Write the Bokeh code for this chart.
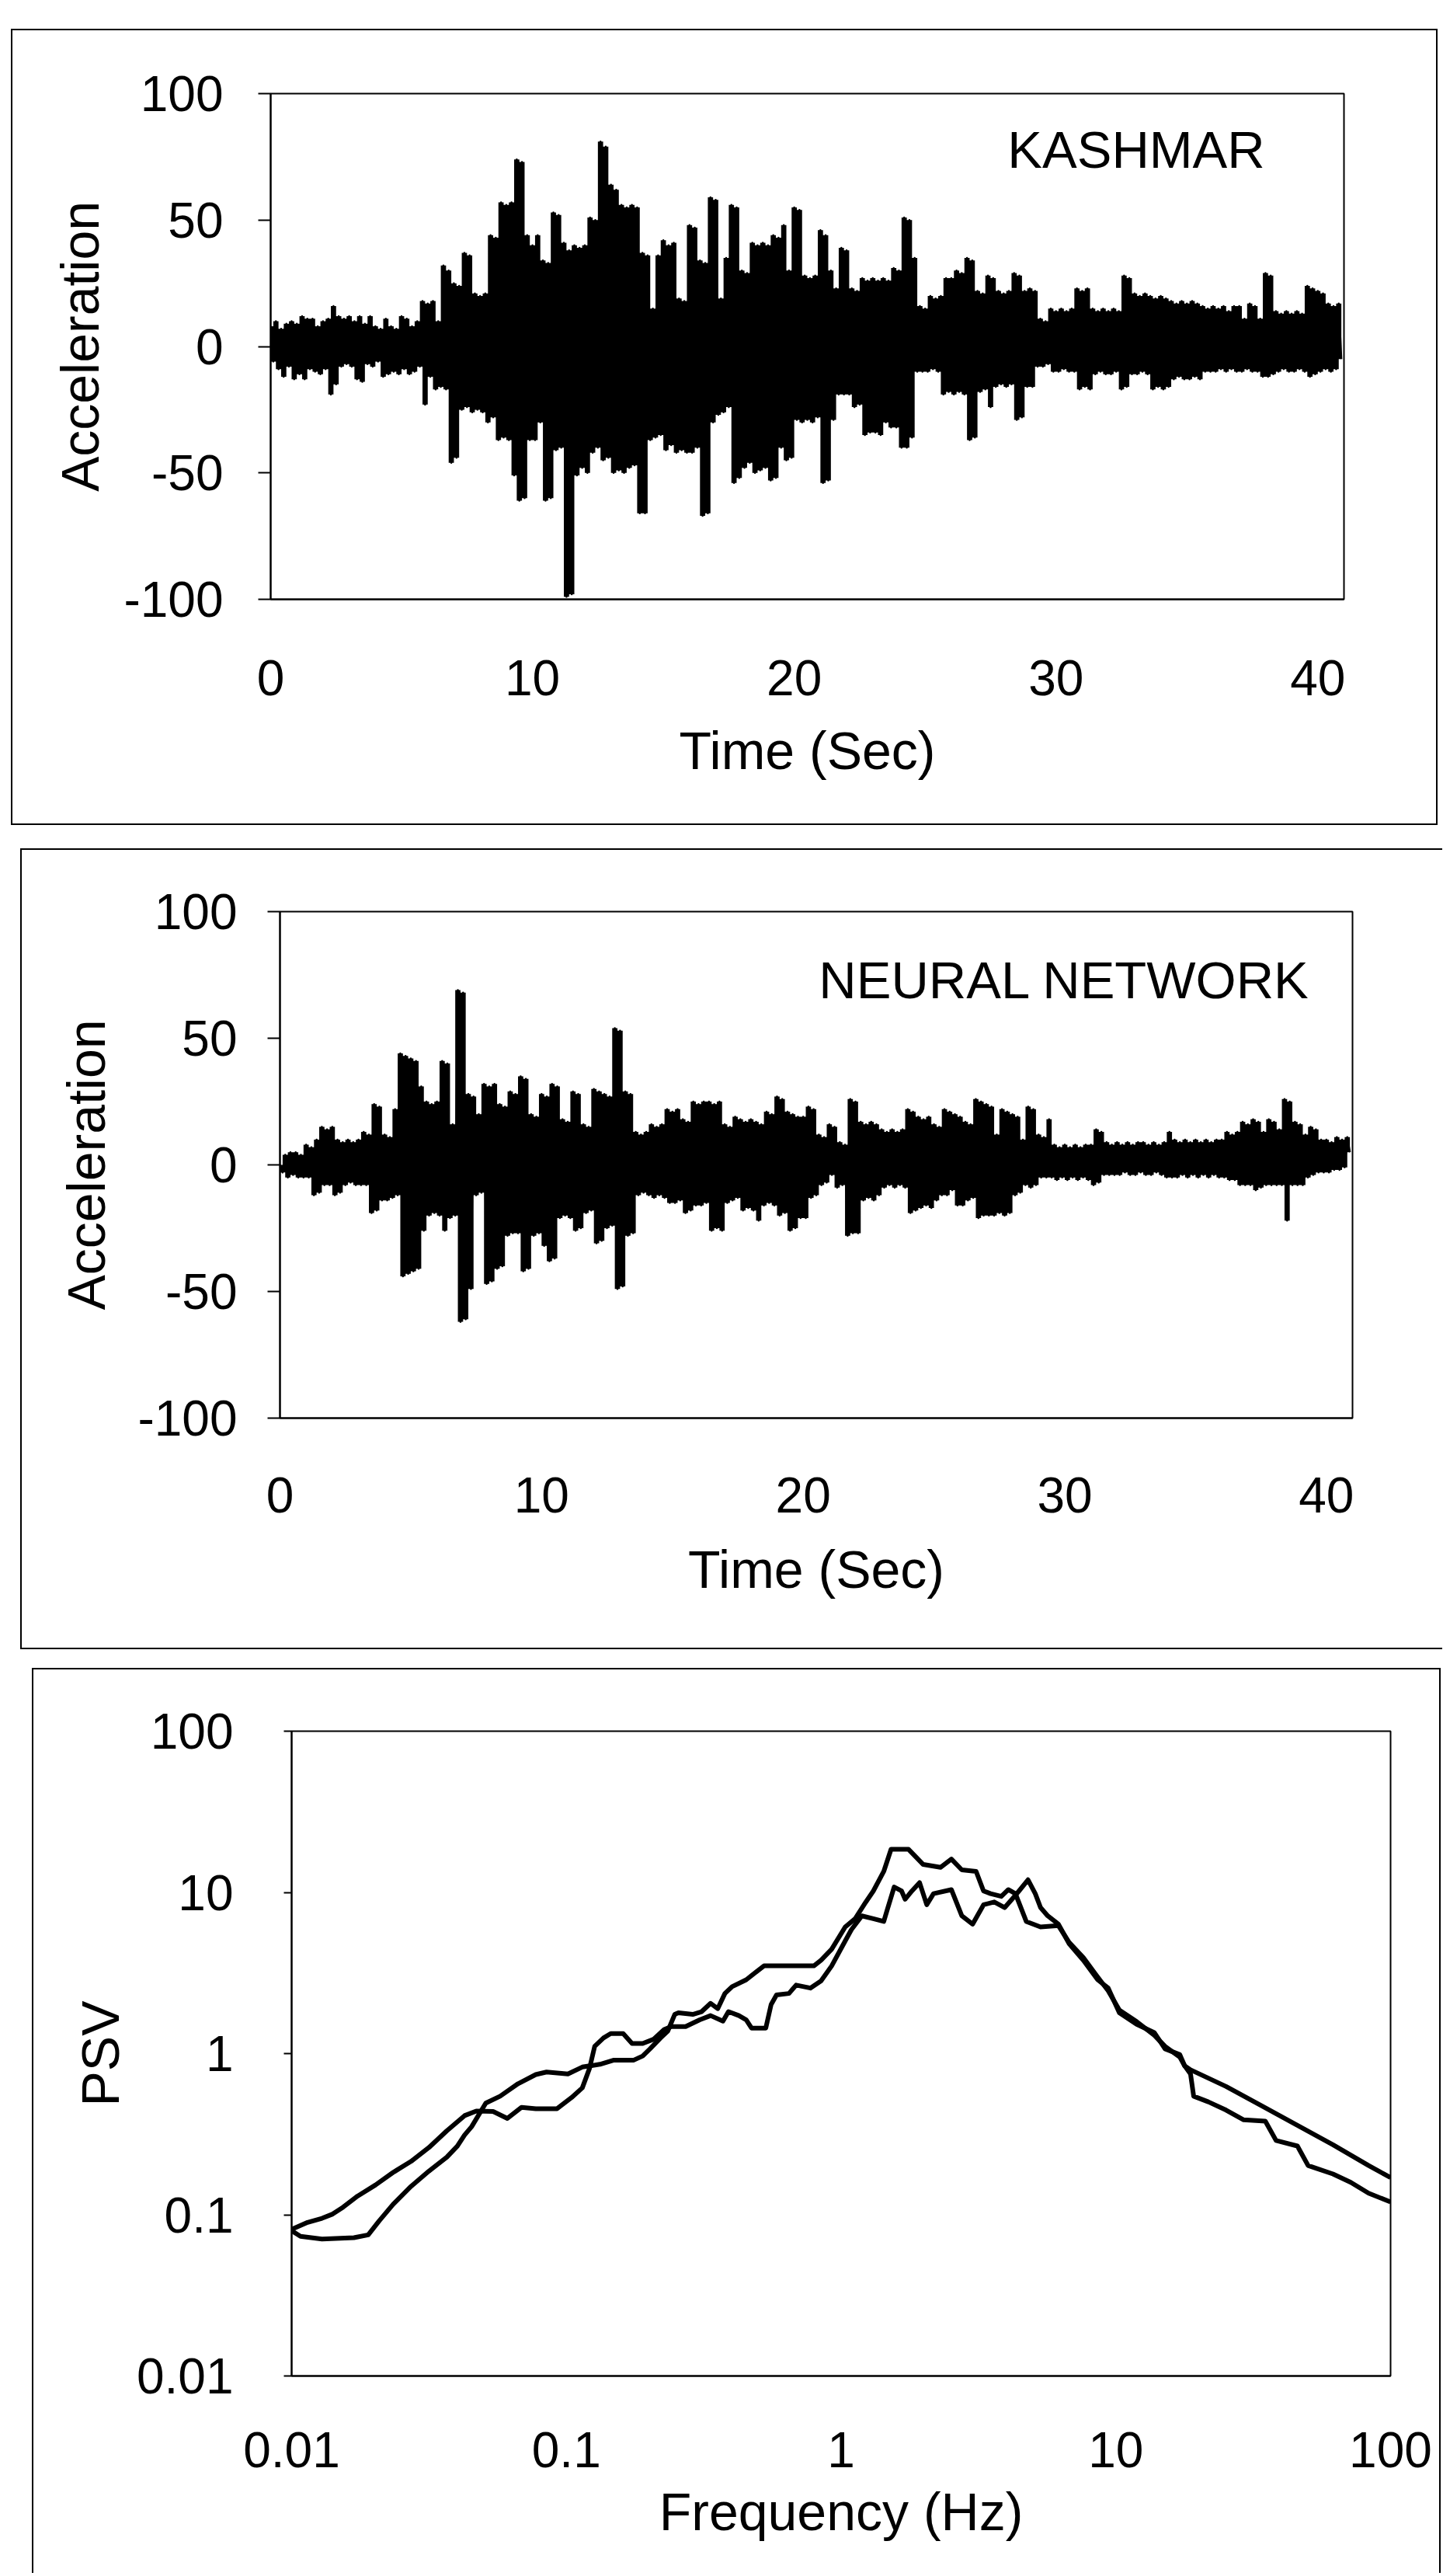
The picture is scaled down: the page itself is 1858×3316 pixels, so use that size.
import numpy as np
from bokeh.plotting import figure
from bokeh.layouts import column
from bokeh.models import FixedTicker, Range1d
from bokeh.core.properties import value
from bokeh.embed import file_html
from bokeh.resources import INLINE

FONT = "Liberation Sans"
TICK_FS = "64px"
LABEL_FS = "68px"
TITLE_FS = "67px"

# ---------------- data ----------------
time_step = 0.1
time_ticks = [0, 10, 20, 30, 40]
time_labels = ["0", "10", "20", "30", "40"]
acc_ticks = [-100, -50, 0, 50, 100]
acc_labels = ["-100", "-50", "0", "50", "100"]

kashmar_title = ["KASHMAR"]
kashmar_acc = [
    8, -6, 10, -9, 7, -12, 9, -8, 10, -13,
    9, -11, 12, -13, 11, -9, 11, -10, 8, -11,
    10, -9, 11, -19, 16, -15, 12, -8, 11, -7,
    12, -8, 10, -13, 12, -14, 9, -7, 12, -8,
    8, -6, 7, -12, 11, -11, 8, -10, 7, -11,
    12, -9, 11, -11, 8, -10, 10, -8, 18, -23,
    17, -12, 18, -17, 10, -16, 32, -17, 30, -46,
    25, -44, 24, -25, 37, -24, 36, -26, 21, -25,
    20, -26, 21, -30, 44, -28, 43, -37, 57, -36,
    56, -37, 57, -51, 74, -61, 73, -60, 44, -37,
    40, -37, 44, -30, 34, -61, 33, -60, 53, -41,
    52, -40, 41, -99, 38, -98, 40, -51, 39, -48,
    40, -50, 51, -42, 50, -40, 81, -45, 79, -44,
    64, -50, 62, -49, 56, -50, 55, -48, 56, -47,
    55, -66, 37, -66, 36, -37, 15, -36, 36, -35,
    42, -41, 40, -39, 41, -42, 19, -41, 18, -42,
    48, -42, 47, -40, 34, -67, 33, -66, 59, -30,
    58, -27, 19, -26, 35, -24, 56, -54, 55, -52,
    30, -48, 29, -46, 41, -50, 40, -49, 41, -48,
    40, -53, 44, -52, 43, -40, 48, -45, 30, -44,
    55, -29, 54, -30, 28, -29, 27, -30, 28, -28,
    46, -54, 44, -53, 30, -29, 23, -19, 39, -19,
    38, -19, 23, -24, 22, -23, 27, -35, 26, -34,
    27, -34, 26, -35, 27, -30, 26, -32, 31, -32,
    30, -40, 51, -40, 50, -36, 35, -10, 16, -10,
    15, -10, 20, -9, 19, -10, 20, -19, 27, -18,
    27, -19, 30, -18, 29, -19, 35, -37, 34, -36,
    22, -18, 21, -17, 28, -24, 27, -16, 22, -15,
    21, -16, 22, -15, 29, -29, 28, -28, 22, -16,
    23, -16, 22, -8, 11, -8, 10, -7, 15, -10,
    14, -10, 15, -9, 14, -10, 15, -10, 23, -17,
    22, -16, 23, -17, 15, -11, 14, -10, 15, -11,
    14, -11, 15, -10, 14, -17, 28, -16, 27, -11,
    21, -11, 20, -10, 21, -11, 20, -17, 19, -16,
    20, -17, 19, -16, 18, -13, 17, -12, 18, -13,
    17, -13, 18, -12, 17, -13, 16, -10, 15, -10,
    16, -10, 15, -9, 16, -10, 14, -9, 16, -10,
    16, -10, 11, -9, 17, -10, 16, -10, 11, -12,
    29, -12, 28, -11, 14, -10, 13, -9, 14, -10,
    13, -10, 14, -9, 13, -10, 24, -12, 23, -11,
    22, -10, 21, -9, 17, -10, 16, -9, 17, -5,
]

nn_title = ["NEURAL NETWORK"]
nn_acc = [
    0, -3, 4, -5, 5, -4, 5, -5, 4, -5,
    8, -5, 7, -12, 10, -11, 15, -8, 14, -8,
    15, -12, 10, -11, 9, -8, 10, -7, 9, -8,
    10, -8, 13, -8, 12, -19, 24, -18, 23, -14,
    12, -14, 11, -13, 22, -12, 44, -44, 43, -43,
    42, -42, 41, -41, 31, -26, 25, -20, 24, -19,
    25, -20, 41, -26, 40, -21, 16, -20, 69, -62,
    68, -61, 28, -49, 27, -12, 20, -11, 32, -47,
    31, -46, 32, -41, 24, -40, 23, -28, 29, -27,
    28, -27, 35, -42, 34, -41, 20, -28, 19, -27,
    28, -32, 27, -38, 32, -37, 31, -21, 18, -20,
    17, -21, 29, -26, 28, -25, 16, -19, 15, -18,
    30, -31, 29, -30, 28, -25, 27, -24, 54, -49,
    53, -48, 29, -28, 28, -27, 13, -12, 12, -11,
    13, -12, 16, -13, 15, -12, 16, -13, 22, -15,
    21, -15, 22, -14, 18, -19, 17, -18, 25, -16,
    24, -16, 25, -15, 25, -26, 24, -25, 25, -26,
    16, -15, 15, -14, 19, -13, 18, -18, 17, -17,
    18, -18, 17, -22, 16, -16, 21, -15, 20, -16,
    27, -20, 26, -19, 21, -26, 20, -25, 19, -21,
    19, -21, 23, -13, 22, -12, 12, -8, 11, -7,
    16, -4, 15, -9, 9, -8, 8, -28, 26, -27,
    25, -27, 17, -14, 16, -13, 17, -14, 16, -12,
    14, -9, 13, -8, 14, -9, 13, -8, 14, -9,
    22, -19, 21, -18, 19, -17, 18, -16, 19, -17,
    16, -14, 15, -12, 22, -12, 21, -10, 20, -16,
    19, -16, 17, -14, 16, -13, 26, -21, 25, -20,
    24, -20, 23, -20, 12, -19, 22, -20, 21, -19,
    20, -12, 19, -11, 10, -8, 23, -9, 22, -8,
    12, -5, 11, -5, 18, -5, 8, -6, 7, -5,
    8, -6, 7, -5, 8, -6, 7, -5, 8, -6,
    8, -8, 14, -7, 13, -4, 9, -4, 8, -4,
    9, -4, 8, -3, 9, -4, 8, -4, 9, -3,
    9, -4, 8, -4, 9, -3, 8, -4, 9, -5,
    13, -5, 10, -5, 9, -4, 10, -5, 9, -4,
    10, -5, 9, -4, 10, -5, 9, -4, 10, -5,
    10, -5, 13, -6, 12, -6, 13, -8, 17, -8,
    16, -8, 18, -10, 17, -9, 13, -8, 18, -8,
    17, -8, 14, -8, 26, -22, 25, -8, 17, -8,
    16, -8, 12, -5, 15, -4, 14, -3, 10, -3,
    10, -3, 9, -2, 11, -2, 10, -1, 11, 5,
]

psv_ticks = [0.01, 0.1, 1, 10, 100]
psv_tick_labels = ["0.01", "0.1", "1", "10", "100"]

psv_a_freq = [0.0100, 0.01143, 0.0129, 0.0141, 0.0154, 0.01738, 0.0202, 0.0234, 0.0272, 0.0316,
              0.0367, 0.0426, 0.047, 0.0541, 0.0610, 0.0687, 0.0774, 0.0925, 0.1044, 0.1143,
              0.1214, 0.1268, 0.1365, 0.145, 0.161, 0.1734, 0.1896, 0.2075, 0.227, 0.241,
              0.2716, 0.306, 0.335, 0.3715, 0.389, 0.4246, 0.4515, 0.472, 0.532, 0.556,
              0.582, 0.646, 0.686, 0.773, 0.845, 0.924, 1.035, 1.09, 1.19, 1.31,
              1.43, 1.47, 1.56, 1.66, 1.71, 1.81, 1.93, 2.05, 2.17, 2.52,
              2.75, 3.01, 3.30, 3.61, 3.94, 4.19, 4.44, 4.79, 5.09, 5.32,
              5.65, 6.18, 6.76, 7.62, 8.59, 9.38, 10.3, 11.9, 13.8, 15.1,
              17.1, 17.8, 18.7, 19.2, 21.7, 25.2, 29.2, 35.0, 38.3, 45.8,
              50.1, 61.7, 71.6, 83.2, 100]
psv_a = [0.0812, 0.0897, 0.0951, 0.101, 0.1115, 0.1306, 0.153, 0.183, 0.2143, 0.2613,
         0.3315, 0.412, 0.44, 0.4375, 0.396, 0.464, 0.455, 0.455, 0.533, 0.613,
         0.809, 1.11, 1.25, 1.33, 1.33, 1.155, 1.155, 1.226, 1.41, 1.47,
         1.47, 1.62, 1.72, 1.59, 1.82, 1.72, 1.62, 1.44, 1.44, 2.01,
         2.31, 2.36, 2.66, 2.55, 2.82, 3.50, 5.0, 5.87, 7.15, 6.87,
         6.6, 7.73, 10.8, 10.2, 9.07, 10.2, 11.5, 8.38, 9.82, 10.4,
         7.15, 6.35, 8.38, 8.72, 8.05, 9.07, 10.2, 11.97, 9.82, 8.05,
         7.15, 6.35, 4.81, 3.79, 2.87, 2.55, 1.79, 1.52, 1.35, 1.07,
         0.985, 0.84, 0.747, 0.544, 0.502, 0.446, 0.388, 0.381, 0.289, 0.267,
         0.202, 0.179, 0.159, 0.136, 0.12]

psv_b_freq = [0.0100, 0.01077, 0.0129, 0.01686, 0.0190, 0.0208, 0.0234, 0.0272, 0.0316, 0.0367,
              0.0401, 0.0426, 0.0452, 0.0509, 0.0574, 0.0667, 0.0774, 0.0847, 0.1013, 0.1143,
              0.1325, 0.149, 0.176, 0.1896, 0.2013, 0.2202, 0.234, 0.248, 0.2558, 0.2884,
              0.3107, 0.335, 0.3556, 0.3776, 0.401, 0.4515, 0.494, 0.524, 0.627, 0.796,
              0.845, 0.924, 1.035, 1.125, 1.23, 1.31, 1.43, 1.52, 1.76, 1.99,
              2.30, 2.52, 2.75, 3.10, 3.30, 3.50, 3.83, 4.06, 4.31, 4.72,
              5.32, 6.18, 6.76, 7.62, 8.59, 9.38, 10.3, 11.9, 13.8, 15.1,
              17.1, 17.8, 18.7, 25.2, 34.0, 45.8, 61.7, 83.2, 100]
psv_b = [0.0796, 0.0735, 0.0707, 0.0721, 0.075, 0.0914, 0.116, 0.150, 0.1866, 0.2275,
         0.2666, 0.3124, 0.3518, 0.493, 0.544, 0.650, 0.741, 0.768, 0.747, 0.825,
         0.858, 0.911, 0.911, 0.966, 1.067, 1.25, 1.38, 1.75, 1.79, 1.75,
         1.82, 2.05, 1.90, 2.36, 2.60, 2.87, 3.24, 3.50, 3.50, 3.50,
         3.79, 4.44, 6.1, 6.87, 8.71, 10.2, 13.5, 18.5, 18.5, 14.9,
         14.3, 16.1, 13.8, 13.5, 10.2, 9.82, 9.44, 10.4, 9.82, 6.6,
         6.1, 6.22, 4.9, 3.94, 2.98, 2.45, 1.86, 1.58, 1.30, 1.11,
         0.95, 0.84, 0.793, 0.625, 0.473, 0.359, 0.272, 0.202, 0.17]


# ---------------- helpers ----------------
def style(p, xstand, ystand, xlab_stand, ylab_stand, ytick_out):
    p.grid.visible = False
    p.outline_line_color = "black"
    p.outline_line_width = 2
    p.border_fill_color = None
    p.background_fill_color = "white"
    for ax in (p.xaxis[0], p.yaxis[0]):
        ax.axis_line_color = "black"
        ax.axis_line_width = 2
        ax.major_tick_line_color = "black"
        ax.major_tick_line_width = 2
        ax.major_tick_in = 0
        ax.minor_tick_in = 0
        ax.minor_tick_out = 0
        ax.major_label_text_font = FONT
        ax.major_label_text_font_size = TICK_FS
        ax.major_label_text_color = "black"
        ax.axis_label_text_font = FONT
        ax.axis_label_text_font_size = LABEL_FS
        ax.axis_label_text_font_style = "normal"
        ax.axis_label_text_color = "black"
    p.xaxis.major_tick_out = 0
    p.yaxis.major_tick_out = ytick_out
    p.xaxis.major_label_standoff = xstand
    p.yaxis.major_label_standoff = ystand
    p.xaxis.axis_label_standoff = xlab_stand
    p.yaxis.axis_label_standoff = ylab_stand


def time_panel(acc, title, title_xy, margin, fw, fh, bl, br, bt, bb, shadow,
               xs, ys, xls, yls):
    a = np.array(acc, dtype=float)
    t = np.arange(len(a)) * time_step
    hi = np.append(np.maximum(a[:-1], a[1:]), a[-1])
    lo = np.append(np.minimum(a[:-1], a[1:]), a[-1])
    p = figure(frame_width=fw, frame_height=fh,
               min_border_left=bl, min_border_right=br,
               min_border_top=bt, min_border_bottom=bb,
               x_range=Range1d(0, 41), y_range=Range1d(-100, 100),
               output_backend="svg", toolbar_location=None, tools="",
               margin=margin)
    p.styles = {"box-shadow": shadow}
    p.varea_step(x=t, y1=lo, y2=hi, step_mode="after", fill_color="black")
    p.line(t, a, line_color="black", line_width=2.5, line_join="round")
    p.text(x=[title_xy[0]], y=[title_xy[1]], text=title,
           text_font=value(FONT), text_font_size=value(TITLE_FS),
           text_baseline="middle", text_align="left", text_color="black")
    p.xaxis.ticker = FixedTicker(ticks=time_ticks)
    p.yaxis.ticker = FixedTicker(ticks=acc_ticks)
    p.xaxis.major_label_overrides = dict(zip(time_ticks, time_labels))
    p.yaxis.major_label_overrides = dict(zip(acc_ticks, acc_labels))
    p.xaxis.axis_label = "Time (Sec)"
    p.yaxis.axis_label = "Acceleration"
    style(p, xs, ys, xls, yls, 16)
    return p


p1 = time_panel(kashmar_acc, kashmar_title, (28.15, 78), (37, 0, 0, 14),
                1382, 651, 334, 121, 83, 291,
                "inset 2px 2px 0 #000, inset -2px -2px 0 #000",
                78, 45, 30, 15)
p2 = time_panel(nn_acc, nn_title, (20.6, 73), (30, 0, 0, 26),
                1381, 652, 334, 116, 81, 298,
                "inset 2px 2px 0 #000, inset 0 -2px 0 #000",
                76, 39, 32, 25)

p3 = figure(frame_width=1415, frame_height=830,
            min_border_left=321, min_border_right=78,
            min_border_top=81, min_border_bottom=254,
            x_axis_type="log", y_axis_type="log",
            x_range=Range1d(0.01, 100), y_range=Range1d(0.01, 100),
            output_backend="svg", toolbar_location=None, tools="",
            margin=(24, 0, 0, 41))
p3.styles = {"box-shadow": "inset 2px 2px 0 #000, inset -2px 0 0 #000"}
p3.line(psv_a_freq, psv_a, line_color="black", line_width=6, line_join="round")
p3.line(psv_b_freq, psv_b, line_color="black", line_width=6, line_join="round")
p3.xaxis.ticker = FixedTicker(ticks=psv_ticks, minor_ticks=[])
p3.yaxis.ticker = FixedTicker(ticks=psv_ticks, minor_ticks=[])
p3.xaxis.major_label_overrides = dict(zip(psv_ticks, psv_tick_labels))
p3.yaxis.major_label_overrides = dict(zip(psv_ticks, psv_tick_labels))
p3.xaxis.axis_label = "Frequency (Hz)"
p3.yaxis.axis_label = "PSV"
style(p3, 72, 65, 16, 6, 10)

layout = column(p1, p2, p3, spacing=0)
open("out.html", "w").write(file_html(layout, INLINE))
